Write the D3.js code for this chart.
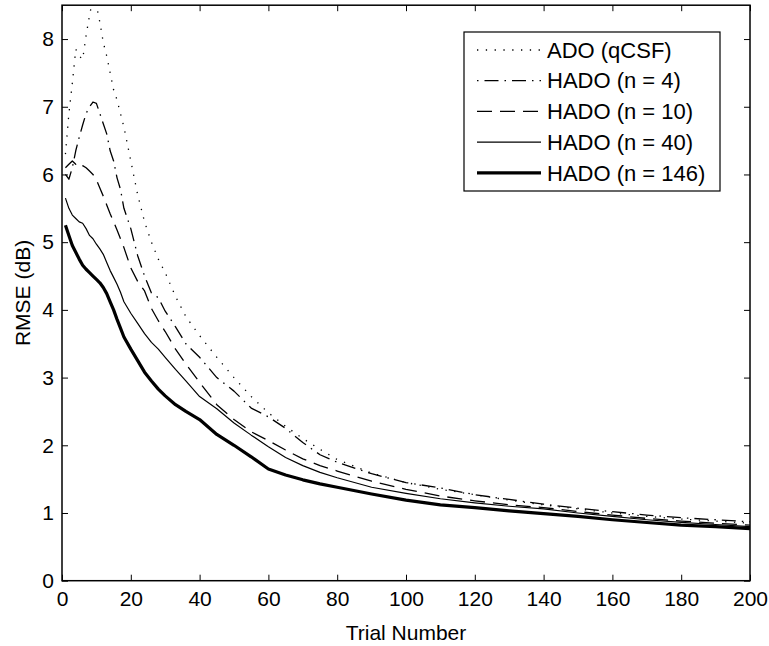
<!DOCTYPE html>
<html><head><meta charset="utf-8">
<script src="https://cdn.jsdelivr.net/npm/d3@7"></script>
<style>
body{margin:0;background:#fff}
text{font-family:"Liberation Sans",Arial,Helvetica,sans-serif;fill:#000}
</style>
</head><body>
<svg id="chart" width="769" height="646"></svg>
<script>
// ---- data ----
const trials = [1,2,3,4,5,6,7,8,9,10,11,12,13,14,15,16,17,18,20,22,24,26,28,30,33,36,40,45,50,55,60,65,70,75,80,90,100,110,120,130,140,150,160,170,180,190,200];
const adoQcsf = [6.3,6.9,7.35,7.85,7.75,7.7,8.05,8.35,8.6,8.5,8.25,7.95,7.75,7.5,7.25,7.1,6.9,6.7,6.2,5.7,5.3,5.0,4.75,4.55,4.2,3.9,3.62,3.3,3.0,2.72,2.48,2.28,2.1,1.94,1.79,1.59,1.45,1.35,1.27,1.19,1.12,1.06,1.0,0.95,0.91,0.88,0.85];
const hado4 = [6.0,5.93,6.1,6.35,6.55,6.73,6.9,7.0,7.07,7.05,6.9,6.75,6.6,6.35,6.2,5.95,5.78,5.5,5.2,4.8,4.5,4.25,4.18,3.98,3.75,3.5,3.3,3.0,2.8,2.55,2.42,2.25,2.04,1.86,1.75,1.58,1.45,1.37,1.27,1.2,1.13,1.07,1.02,0.97,0.93,0.9,0.87];
const hado10 = [6.1,6.15,6.2,6.15,6.18,6.13,6.1,6.05,6.0,5.92,5.8,5.68,5.55,5.42,5.3,5.18,5.05,4.92,4.62,4.42,4.28,4.02,3.84,3.68,3.42,3.2,2.93,2.6,2.38,2.2,2.07,1.93,1.8,1.7,1.62,1.47,1.35,1.25,1.18,1.12,1.08,1.02,0.97,0.92,0.88,0.85,0.82];
const hado40 = [5.65,5.5,5.4,5.35,5.3,5.28,5.2,5.1,5.05,4.97,4.9,4.82,4.7,4.58,4.48,4.38,4.26,4.12,3.95,3.8,3.65,3.52,3.42,3.3,3.12,2.95,2.72,2.54,2.33,2.15,1.98,1.82,1.7,1.6,1.52,1.38,1.29,1.21,1.15,1.1,1.06,1.0,0.95,0.9,0.86,0.83,0.8];
const hado146 = [5.25,5.1,4.95,4.85,4.75,4.66,4.6,4.55,4.5,4.45,4.4,4.33,4.24,4.12,4.0,3.86,3.73,3.6,3.42,3.25,3.08,2.95,2.83,2.73,2.6,2.5,2.38,2.16,2.0,1.83,1.65,1.56,1.49,1.43,1.38,1.28,1.19,1.12,1.08,1.03,0.99,0.95,0.9,0.86,0.82,0.8,0.77];
const seriesNames = ["ADO (qCSF)","HADO (n = 4)","HADO (n = 10)","HADO (n = 40)","HADO (n = 146)"];
const seriesValues = [adoQcsf, hado4, hado10, hado40, hado146];
const xTicks = [0,20,40,60,80,100,120,140,160,180,200];
const yTicks = [0,1,2,3,4,5,6,7,8];
const xLabel = "Trial Number";
const yLabel = "RMSE (dB)";

// ---- styles ----
const lineStyles = [
  {w:1.3, dash:"1.3,7.5", off:0},
  {w:1.3, dash:"14,6,1.5,6", off:20},
  {w:1.3, dash:"15,8", off:0},
  {w:1.2, dash:null, off:0},
  {w:3.2, dash:null, off:0}
];

const svg = d3.select("#chart");
const L = 62, R = 750, T = 5.2, B = 580.7;
const x = d3.scaleLinear().domain([0,200]).range([L,R]);
const y = d3.scaleLinear().domain([0,8.5]).range([B,T]);
const fs = 21;
const lfs = 22;

svg.append("defs").append("clipPath").attr("id","clip")
  .append("rect").attr("x",L).attr("y",T).attr("width",R-L).attr("height",B-T);

// series
const line = d3.line().x((d,i)=>x(trials[i])).y(d=>y(d));
const g = svg.append("g").attr("clip-path","url(#clip)");
seriesValues.forEach((vals,k)=>{
  g.append("path").attr("d",line(vals)).attr("fill","none").attr("stroke","#000")
    .attr("stroke-width",lineStyles[k].w)
    .attr("stroke-linejoin","round")
    .attr("stroke-dasharray",lineStyles[k].dash);
});

// axes
function styleAxis(sel){
  sel.select(".domain").remove();
  sel.selectAll("line").attr("stroke","#000").attr("stroke-width",1);
  sel.selectAll("text").style("font-size",fs+"px").attr("fill","#000");
}
svg.append("g").attr("transform",`translate(0,${B})`)
  .call(d3.axisBottom(x).tickValues(xTicks).tickSize(-6).tickPadding(10).tickFormat(d3.format("d")))
  .call(styleAxis);
svg.append("g").attr("transform",`translate(0,${T})`)
  .call(d3.axisTop(x).tickValues(xTicks).tickSize(-6).tickFormat(""))
  .call(styleAxis);
svg.append("g").attr("transform",`translate(${L},0)`)
  .call(d3.axisLeft(y).tickValues(yTicks).tickSize(-6).tickPadding(8).tickFormat(d3.format("d")))
  .call(styleAxis);
svg.append("g").attr("transform",`translate(${R},0)`)
  .call(d3.axisRight(y).tickValues(yTicks).tickSize(-6).tickFormat(""))
  .call(styleAxis);

svg.append("rect").attr("x",L).attr("y",T).attr("width",R-L).attr("height",B-T)
  .attr("fill","none").attr("stroke","#000").attr("stroke-width",1.5);

// axis labels
svg.append("text").attr("x",(L+R)/2).attr("y",640).attr("text-anchor","middle")
  .style("font-size",fs+"px").text(xLabel);
svg.append("text").attr("transform",`translate(30,${(T+B)/2}) rotate(-90)`)
  .attr("text-anchor","middle").style("font-size",fs+"px").text(yLabel);

// legend
const lx = 464, ly = 32, lw = 256, lh = 159;
const lg = svg.append("g");
lg.append("rect").attr("x",lx).attr("y",ly).attr("width",lw).attr("height",lh)
  .attr("fill","#fff").attr("stroke","#000").attr("stroke-width",1.2);
seriesNames.forEach((name,k)=>{
  const yy = ly + 18 + k*30.7;
  lg.append("line").attr("x1",lx+13).attr("x2",lx+77).attr("y1",yy).attr("y2",yy)
    .attr("stroke","#000").attr("stroke-width",lineStyles[k].w)
    .attr("stroke-dasharray",lineStyles[k].dash)
    .attr("stroke-dashoffset",lineStyles[k].off);
  lg.append("text").attr("x",lx+83).attr("y",yy).attr("dy","0.35em")
    .style("font-size",lfs+"px").text(name);
});
</script>
</body></html>
